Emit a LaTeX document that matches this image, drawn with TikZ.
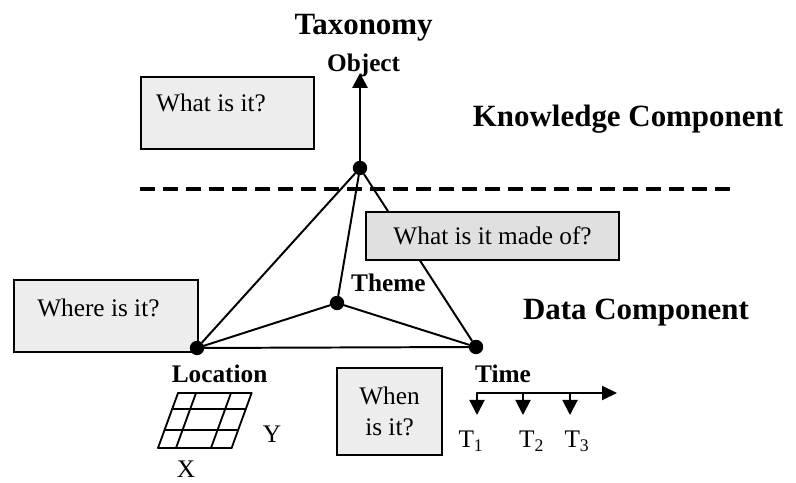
\documentclass[tikz,border=0pt]{standalone}
\usepackage{fontspec}
\setmainfont{Liberation Serif}
\usetikzlibrary{arrows.meta}

\begin{document}
\begin{tikzpicture}[line cap=round,line join=round,every node/.style={inner sep=0pt},
  vtx/.style={circle,fill=black,minimum size=0.36cm},
  qbox/.style={draw,line width=1.5pt,fill=gray!14,anchor=south west,line cap=butt,line join=miter},
  big/.style={font=\fontsize{22}{26}\selectfont\bfseries,anchor=base},
  lbl/.style={font=\fontsize{18}{21.5}\selectfont\bfseries,anchor=base},
  txt/.style={font=\fontsize{18}{21.5}\selectfont,anchor=base}]
  \useasboundingbox (0,0) rectangle (19.9,12.075);

  % question boxes
  \node[qbox,minimum width=4.325cm,minimum height=1.8cm] (whatbox) at (3.5,8.325) {};
  \node[txt] (what) at (5.275,9.275) {What is it?};
  \node[qbox,minimum width=4.6cm,minimum height=1.8cm] (wherebox) at (0.32,3.25) {};
  \node[txt] (where) at (2.46,4.15) {Where is it?};
  \node[qbox,minimum width=2.625cm,minimum height=2.175cm,align=center,
        font=\fontsize{18}{21.5}\selectfont] (whenbox) at (8.4,0.675) {When\\is it?};

  % split between the two components
  \coordinate (kl) at (3.5,7.35);
  \coordinate (kr) at (18.375,7.35);
  \draw[line width=2.2pt,line cap=butt,dash pattern=on 0.375cm off 0.2cm] (kl) -- (kr);

  % pyramid
  \node[vtx] (obj) at (9.0,7.875) {};
  \node[vtx] (theme) at (8.425,4.5) {};
  \node[vtx] (loc) at (4.925,3.375) {};
  \node[vtx] (time) at (11.9,3.4) {};
  \draw[line width=1.4pt] (obj) -- (loc) (obj) -- (theme) (obj) -- (time)
    (theme) -- (loc) (theme) -- (time) (loc) -- (time);
  \node[qbox,fill=gray!24,minimum width=6.325cm,minimum height=1.2cm,
        font=\fontsize{18}{21.5}\selectfont] (madebox) at (9.125,5.55) {What is it made of?};

  \coordinate (objtip) at (9.0,10.25);
  \draw[line width=2pt,-{Triangle[width=0.375cm,length=0.375cm]}] (obj) -- (objtip);

  \node[big] (taxo) at (9.09,11.2) {Taxonomy};
  \node[lbl] (objlbl) at (9.09,10.275) {Object};
  \node[big] (know) at (15.7,8.9) {Knowledge Component};
  \node[big] (data) at (15.9,4.075) {Data Component};
  \node[lbl] (themelbl) at (9.71,4.775) {Theme};
  \node[lbl] (loclbl) at (5.49,2.5) {Location};
  \node[lbl] (timelbl) at (12.575,2.5) {Time};

  % location grid
  \begin{scope}[shift={(3.95,0.875)},xslant=0.364,line width=1.3pt]
    \foreach \u in {0,0.45,1.325,1.84} \draw (\u,0) -- (\u,1.375);
    \foreach \v in {0,0.45,0.975,1.375} \draw (0,\v) -- (1.84,\v);
  \end{scope}
  \node[txt] (xl) at (4.65,0.14) {X};
  \node[txt] (yl) at (6.8,1.0) {Y};

  % time axis
  \coordinate (t0) at (11.925,2.25);
  \coordinate (tend) at (15.425,2.25);
  \draw[line width=1.4pt,-{Triangle[width=0.35cm,length=0.375cm]}] (t0) -- (tend);
  \foreach \x/\n/\lx in {11.925/1/11.775,13.075/2/13.29,14.25/3/14.425} {
    \coordinate (tk\n) at (\x,2.25);
    \coordinate (tp\n) at (\x,1.7);
    \draw[line width=1.4pt,-{Triangle[width=0.375cm,length=0.375cm]}] (tk\n) -- (tp\n);
    \node[txt] (t\n) at (\lx,0.875) {T\textsubscript{\n}};
  }
\end{tikzpicture}
\end{document}
